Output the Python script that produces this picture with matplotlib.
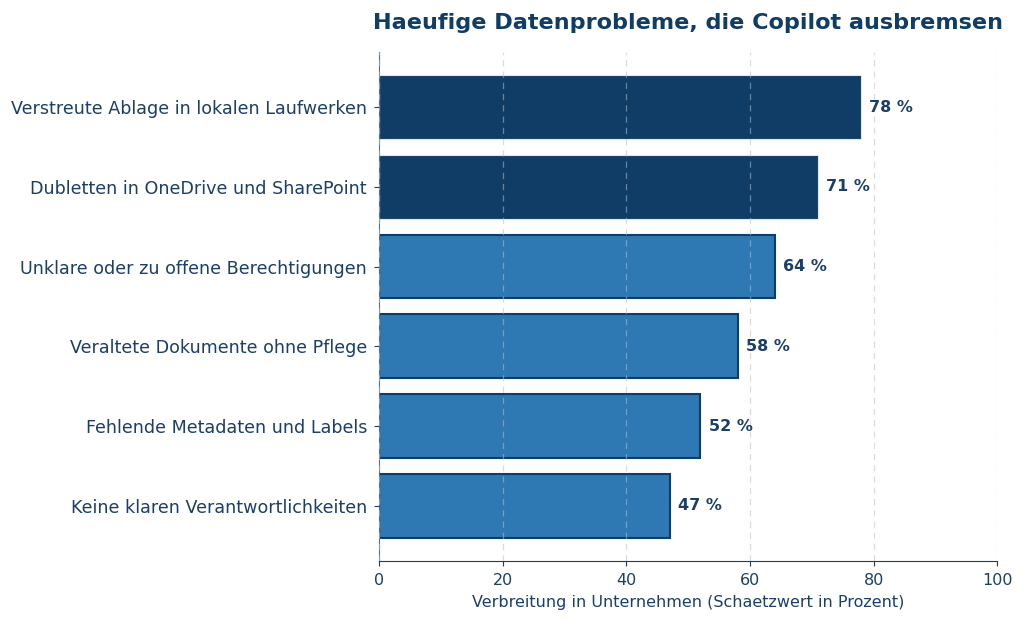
import matplotlib
matplotlib.use("Agg")
import matplotlib.pyplot as plt

categories = [
    "Verstreute Ablage in lokalen Laufwerken",
    "Dubletten in OneDrive und SharePoint",
    "Unklare oder zu offene Berechtigungen",
    "Veraltete Dokumente ohne Pflege",
    "Fehlende Metadaten und Labels",
    "Keine klaren Verantwortlichkeiten",
]
values = [78, 71, 64, 58, 52, 47]
highlight = [True, True, False, False, False, False]

navy = "#0f3d66"
blue = "#2e78b4"
text_col = "#1b3f66"

fig = plt.figure(figsize=(10.24, 6.21), dpi=100)
ax = fig.add_axes([0.370, 0.097, 0.604, 0.819])

ypos = list(range(len(categories)))
colors = [navy if h else blue for h in highlight]
edges = ["#dfe6ee" if h else navy for h in highlight]
lws = [0.8 if h else 1.5 for h in highlight]
ax.barh(ypos, values, height=0.8, color=colors, edgecolor=edges,
        linewidth=lws, zorder=2)

for y, v in zip(ypos, values):
    ax.text(v + 1.3, y, f"{v} %", va="center", ha="left", fontsize=11.5,
            fontweight="bold", color=text_col)

ax.set_yticks(ypos)
ax.set_yticklabels(categories, fontsize=12.6, color=text_col)
ax.invert_yaxis()
ax.set_xlim(0, 100)
ax.set_xticks([0, 20, 40, 60, 80, 100])
ax.tick_params(axis="x", labelsize=11.5, colors=text_col, pad=5)
ax.tick_params(axis="y", colors=text_col, pad=5)
ax.xaxis.grid(True, linestyle=(0, (5, 4)), color="#b8bec8", linewidth=0.9,
              alpha=0.55, zorder=3)
ax.set_axisbelow(False)
for s in ["top", "right"]:
    ax.spines[s].set_visible(False)
ax.spines["bottom"].set_color(text_col)
ax.spines["left"].set_color("#4d6f91")
ax.set_xlabel("Verbreitung in Unternehmen (Schaetzwert in Prozent)",
              fontsize=11.5, color=text_col, labelpad=5)
ax.set_title("Haeufige Datenprobleme, die Copilot ausbremsen", fontsize=16.1,
             fontweight="bold", color=navy, pad=17)

fig.savefig("out.png", dpi=100)
